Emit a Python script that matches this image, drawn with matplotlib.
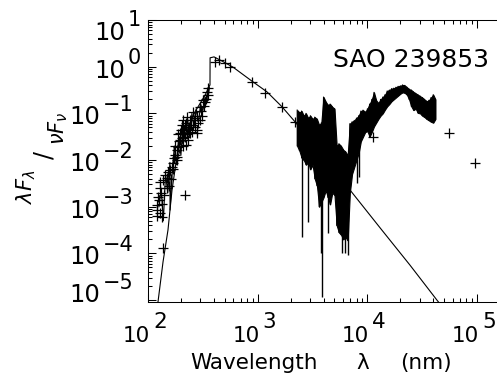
import numpy as np
import matplotlib
matplotlib.use("Agg")
import matplotlib.pyplot as plt
from matplotlib import transforms
from matplotlib.ticker import LogLocator, NullFormatter

# ---------------- data (log10 of wavelength [nm] and of lambda F_lambda / nu F_nu) -------------
star_name = "SAO 239853"

# model (thin solid line)
model_logw = [2.091, 2.137, 2.182, 2.219, 2.255, 2.337, 2.428, 2.520, 2.565, 2.566, 2.602,
              2.675, 2.775, 2.948, 3.085, 3.222, 3.340, 3.586, 3.841, 4.115, 4.388, 4.634, 4.707]
model_logf = [-5.04, -4.18, -3.50, -2.64, -2.06, -1.46, -0.97, -0.61, -0.39, 0.19, 0.21,
              0.12, -0.01, -0.31, -0.54, -0.86, -1.18, -1.89, -2.64, -3.45, -4.25, -5.00, -5.21]

# photometric points (plus signs)
phot_logw = [2.611, 2.647, 2.702, 2.748, 2.948, 3.067, 3.222, 3.340, 4.051, 4.744, 4.981, 2.337, 2.137]
phot_logf = [0.10, 0.14, 0.08, -0.01, -0.33, -0.56, -0.86, -1.18, -1.51, -1.42, -2.06, -2.75, -3.88]

# UV spectrum points (plus signs)
uv_logw = [2.082, 2.091, 2.109, 2.128, 2.082, 2.109, 2.137, 2.109, 2.155, 2.173, 2.201, 2.219,
           2.228, 2.264, 2.264, 2.273, 2.292, 2.292, 2.310, 2.319, 2.319, 2.356, 2.365, 2.365,
           2.383, 2.410, 2.447, 2.447, 2.410, 2.474, 2.474, 2.501, 2.520, 2.538, 2.547, 2.337,
           2.246, 2.182, 2.383, 2.428, 2.346,
           2.30, 2.31, 2.33, 2.34, 2.35, 2.37, 2.39, 2.40, 2.42, 2.43, 2.45, 2.46, 2.48, 2.49,
           2.51, 2.53, 2.55, 2.28, 2.27, 2.25, 2.24, 2.23, 2.21, 2.19, 2.17, 2.15, 2.13, 2.12,
           2.10, 2.08, 2.26, 2.32, 2.36]
uv_logf = [-2.96, -2.79, -3.13, -3.22, -3.07, -2.60, -2.43, -2.47, -2.32, -2.38, -2.21, -2.15,
           -2.06, -1.93, -1.78, -1.72, -1.57, -1.42, -1.53, -1.42, -1.14, -1.08, -1.36, -1.57,
           -1.42, -0.97, -1.36, -1.42, -1.25, -0.86, -1.14, -0.71, -0.76, -0.54, -0.46, -1.25,
           -1.89, -2.25, -1.14, -1.10, -1.68,
           -1.35, -1.25, -1.35, -1.50, -1.20, -1.30, -1.25, -1.40, -1.15, -1.30, -1.05, -1.20,
           -0.95, -1.05, -0.85, -0.70, -0.60, -1.60, -1.45, -1.70, -1.95, -2.20, -2.40, -2.55,
           -2.60, -2.75, -2.95, -2.70, -2.85, -3.20, -2.00, -1.70, -1.45]

# UV spectrum trace
uvl_logw = [2.10, 2.12, 2.14, 2.16, 2.18, 2.20, 2.201, 2.22, 2.24, 2.26, 2.28, 2.30, 2.32,
            2.34, 2.36, 2.38, 2.40, 2.42, 2.44, 2.46, 2.48, 2.50, 2.52, 2.54, 2.56]
uvl_logf = [-3.0, -2.6, -3.3, -2.3, -2.7, -2.05, -3.07, -2.3, -1.7, -2.1, -1.5, -1.9, -1.2,
            -1.6, -1.1, -1.5, -1.0, -1.3, -0.9, -1.2, -0.8, -0.95, -0.65, -0.75, -0.45]

# IR spectrum envelope (upper / lower edge)
ir_logw = [3.36, 3.38, 3.40, 3.42, 3.44, 3.46, 3.48, 3.50, 3.52, 3.54, 3.56, 3.58, 3.60,
           3.62, 3.64, 3.66, 3.68, 3.70, 3.72, 3.74, 3.76, 3.78, 3.80, 3.82, 3.84, 3.86,
           3.88, 3.90, 3.92, 3.94, 3.96, 3.98, 4.00, 4.02, 4.04, 4.06, 4.08, 4.10, 4.12,
           4.14, 4.16, 4.18, 4.20, 4.22, 4.24, 4.26, 4.28, 4.30, 4.32, 4.34, 4.36, 4.38,
           4.40, 4.42, 4.44, 4.46, 4.48, 4.50, 4.52, 4.54, 4.56, 4.58, 4.60, 4.62]
ir_top = [-0.93, -0.98, -0.95, -1.05, -1.00, -1.10, -1.05, -1.12, -1.08, -1.12, -1.25, -1.20,
          -0.65, -0.75, -0.82, -0.80, -0.86, -0.90, -1.70, -1.65, -1.70, -1.78, -1.82, -1.90,
          -1.22, -1.18, -1.15, -1.10, -1.05, -0.95, -0.93, -0.97, -0.90, -0.80, -0.70, -0.55,
          -0.72, -0.78, -0.70, -0.65, -0.60, -0.52, -0.50, -0.47, -0.46, -0.44, -0.42, -0.41,
          -0.39, -0.40, -0.44, -0.48, -0.50, -0.54, -0.57, -0.60, -0.63, -0.66, -0.70, -0.74,
          -0.72, -0.66, -0.60, -0.70]
ir_bot = [-1.70, -1.80, -1.95, -2.00, -2.10, -2.05, -2.20, -2.10, -2.40, -2.55, -3.00, -2.90,
          -2.80, -2.65, -2.80, -2.95, -2.70, -2.75, -3.40, -3.55, -3.60, -3.70, -3.65, -3.72,
          -2.70, -2.30, -2.15, -2.00, -1.85, -1.60, -1.50, -1.40, -1.38, -1.50, -1.40, -1.28,
          -1.20, -1.12, -1.05, -1.00, -0.92, -0.85, -0.80, -0.74, -0.70, -0.66, -0.62, -0.58,
          -0.55, -0.56, -0.60, -0.70, -0.85, -0.93, -0.90, -0.99, -1.00, -1.05, -1.08, -1.12,
          -1.15, -1.18, -1.20, -1.12]

# deep absorption lines in the IR spectrum (bottom values)
deep_logw = [3.404, 3.459, 3.577, 3.586, 3.641, 3.768, 3.796, 3.823, 3.905, 3.923]
deep_logf = [-3.65, -3.33, -3.99, -4.93, -3.56, -3.99, -3.99, -4.03, -2.49, -2.36]
deep_top = [-1.6, -1.6, -1.6, -1.6, -1.6, -2.0, -2.0, -2.0, -1.6, -1.6]

x_decades = [2, 3, 4, 5]
y_decades = [1, 0, -1, -2, -3, -4, -5]

# ---------------- figure ----------------
W, H = 497, 385
fig = plt.figure(figsize=(W / 100, H / 100), dpi=100)
ax_left, ax_right, ax_top, ax_bot = 148, 521, 20, 302
ax = fig.add_axes([ax_left / W, 1 - ax_bot / H, (ax_right - ax_left) / W, (ax_bot - ax_top) / H])
ax.set_xscale("log")
ax.set_yscale("log")
ax.set_xlim(1e2, 10 ** 5.4)
ax.set_ylim(10 ** -5.04, 10 ** 1)

p = lambda a: np.power(10.0, np.asarray(a, dtype=float))

lw = 0.8
irw, irt, irb = p(ir_logw), p(ir_top), p(ir_bot)
ax.fill_between(irw, irt, irb, color="k", lw=lw, edgecolor="k")
zig_w = np.repeat(irw, 2)
zig_f = np.column_stack([irt, irb]).ravel()
ax.plot(zig_w, zig_f, color="k", lw=lw)
ax.vlines(p(deep_logw), p(deep_logf), p(deep_top), color="k", lw=1.0)
ax.plot(p(uvl_logw), p(uvl_logf), color="k", lw=lw)
ax.plot(p(model_logw), p(model_logf), color="k", lw=lw)
ax.plot(p(uv_logw), p(uv_logf), ls="none", marker="+", ms=7.5, mew=0.9, color="k")
ax.plot(p(phot_logw), p(phot_logf), ls="none", marker="+", ms=7.5, mew=0.9, color="k")

for axis in (ax.xaxis, ax.yaxis):
    axis.set_major_locator(LogLocator(base=10, numticks=30))
    axis.set_minor_locator(LogLocator(base=10, subs=np.arange(2, 10), numticks=30))
    axis.set_minor_formatter(NullFormatter())
ax.tick_params(which="both", direction="in", top=True, right=False,
               labelbottom=False, labelleft=False, width=0.75, color="k")
ax.tick_params(which="major", length=6)
ax.tick_params(which="minor", length=3)
for s in ax.spines.values():
    s.set_linewidth(0.75)

# ---------------- tick labels (IDL style) ----------------
fam = "DejaVu Sans"
tx = transforms.blended_transform_factory(ax.transData, fig.transFigure)
for k in x_decades:
    t1 = transforms.offset_copy(tx, fig=fig, x=2, y=0, units="dots")
    t2 = transforms.offset_copy(tx, fig=fig, x=5, y=0, units="dots")
    ax.text(10 ** k, 1 - 342 / H, "10", transform=t1, ha="right", va="baseline",
            fontsize=15.5, family=fam, clip_on=False)
    ax.text(10 ** k, 1 - 328 / H, str(k), transform=t2, ha="left", va="baseline",
            fontsize=15.5, family=fam, clip_on=False)

ty = transforms.blended_transform_factory(fig.transFigure, ax.transData)
for k in y_decades:
    if k == y_decades[0]:
        dy = 20
    elif k == y_decades[-1]:
        dy = 2
    else:
        dy = 11
    bx = 125 if k >= 0 else 100
    t1 = transforms.offset_copy(ty, fig=fig, x=0, y=-dy, units="dots")
    t2 = transforms.offset_copy(ty, fig=fig, x=0, y=-dy + 13.5, units="dots")
    ax.text(bx / W, 10 ** k, "10", transform=t1, ha="right", va="baseline",
            fontsize=17.5, family=fam, clip_on=False)
    ax.text((bx + 2.5) / W, 10 ** k, str(k).replace("-", "\u2212"), transform=t2,
            ha="left", va="baseline", fontsize=15, family=fam, clip_on=False)

# ---------------- axis titles ----------------
fig.text(190 / W, 1 - 369 / H, "Wavelength", ha="left", va="baseline", fontsize=15.5, family=fam)
fig.text(363 / W, 1 - 369 / H, "\u03bb", ha="center", va="baseline", fontsize=15.5, family=fam)
fig.text(400 / W, 1 - 369 / H, "(nm)", ha="left", va="baseline", fontsize=15.5, family=fam)

fig.text(26 / W, 1 - 187 / H, r"$\lambda F_{\lambda}$", rotation=90, ha="center", va="center",
         fontsize=15)
fig.text(44 / W, 1 - 155 / H, "/", rotation=90, ha="center", va="center", fontsize=17, family=fam)
fig.text(58 / W, 1 - 128 / H, r"$\nu F_{\nu}$", rotation=90, ha="center", va="center",
         fontsize=15)

fig.text(333 / W, 1 - 67 / H, star_name, ha="left", va="baseline", fontsize=18, family=fam)

fig.savefig("out.png", dpi=100)
